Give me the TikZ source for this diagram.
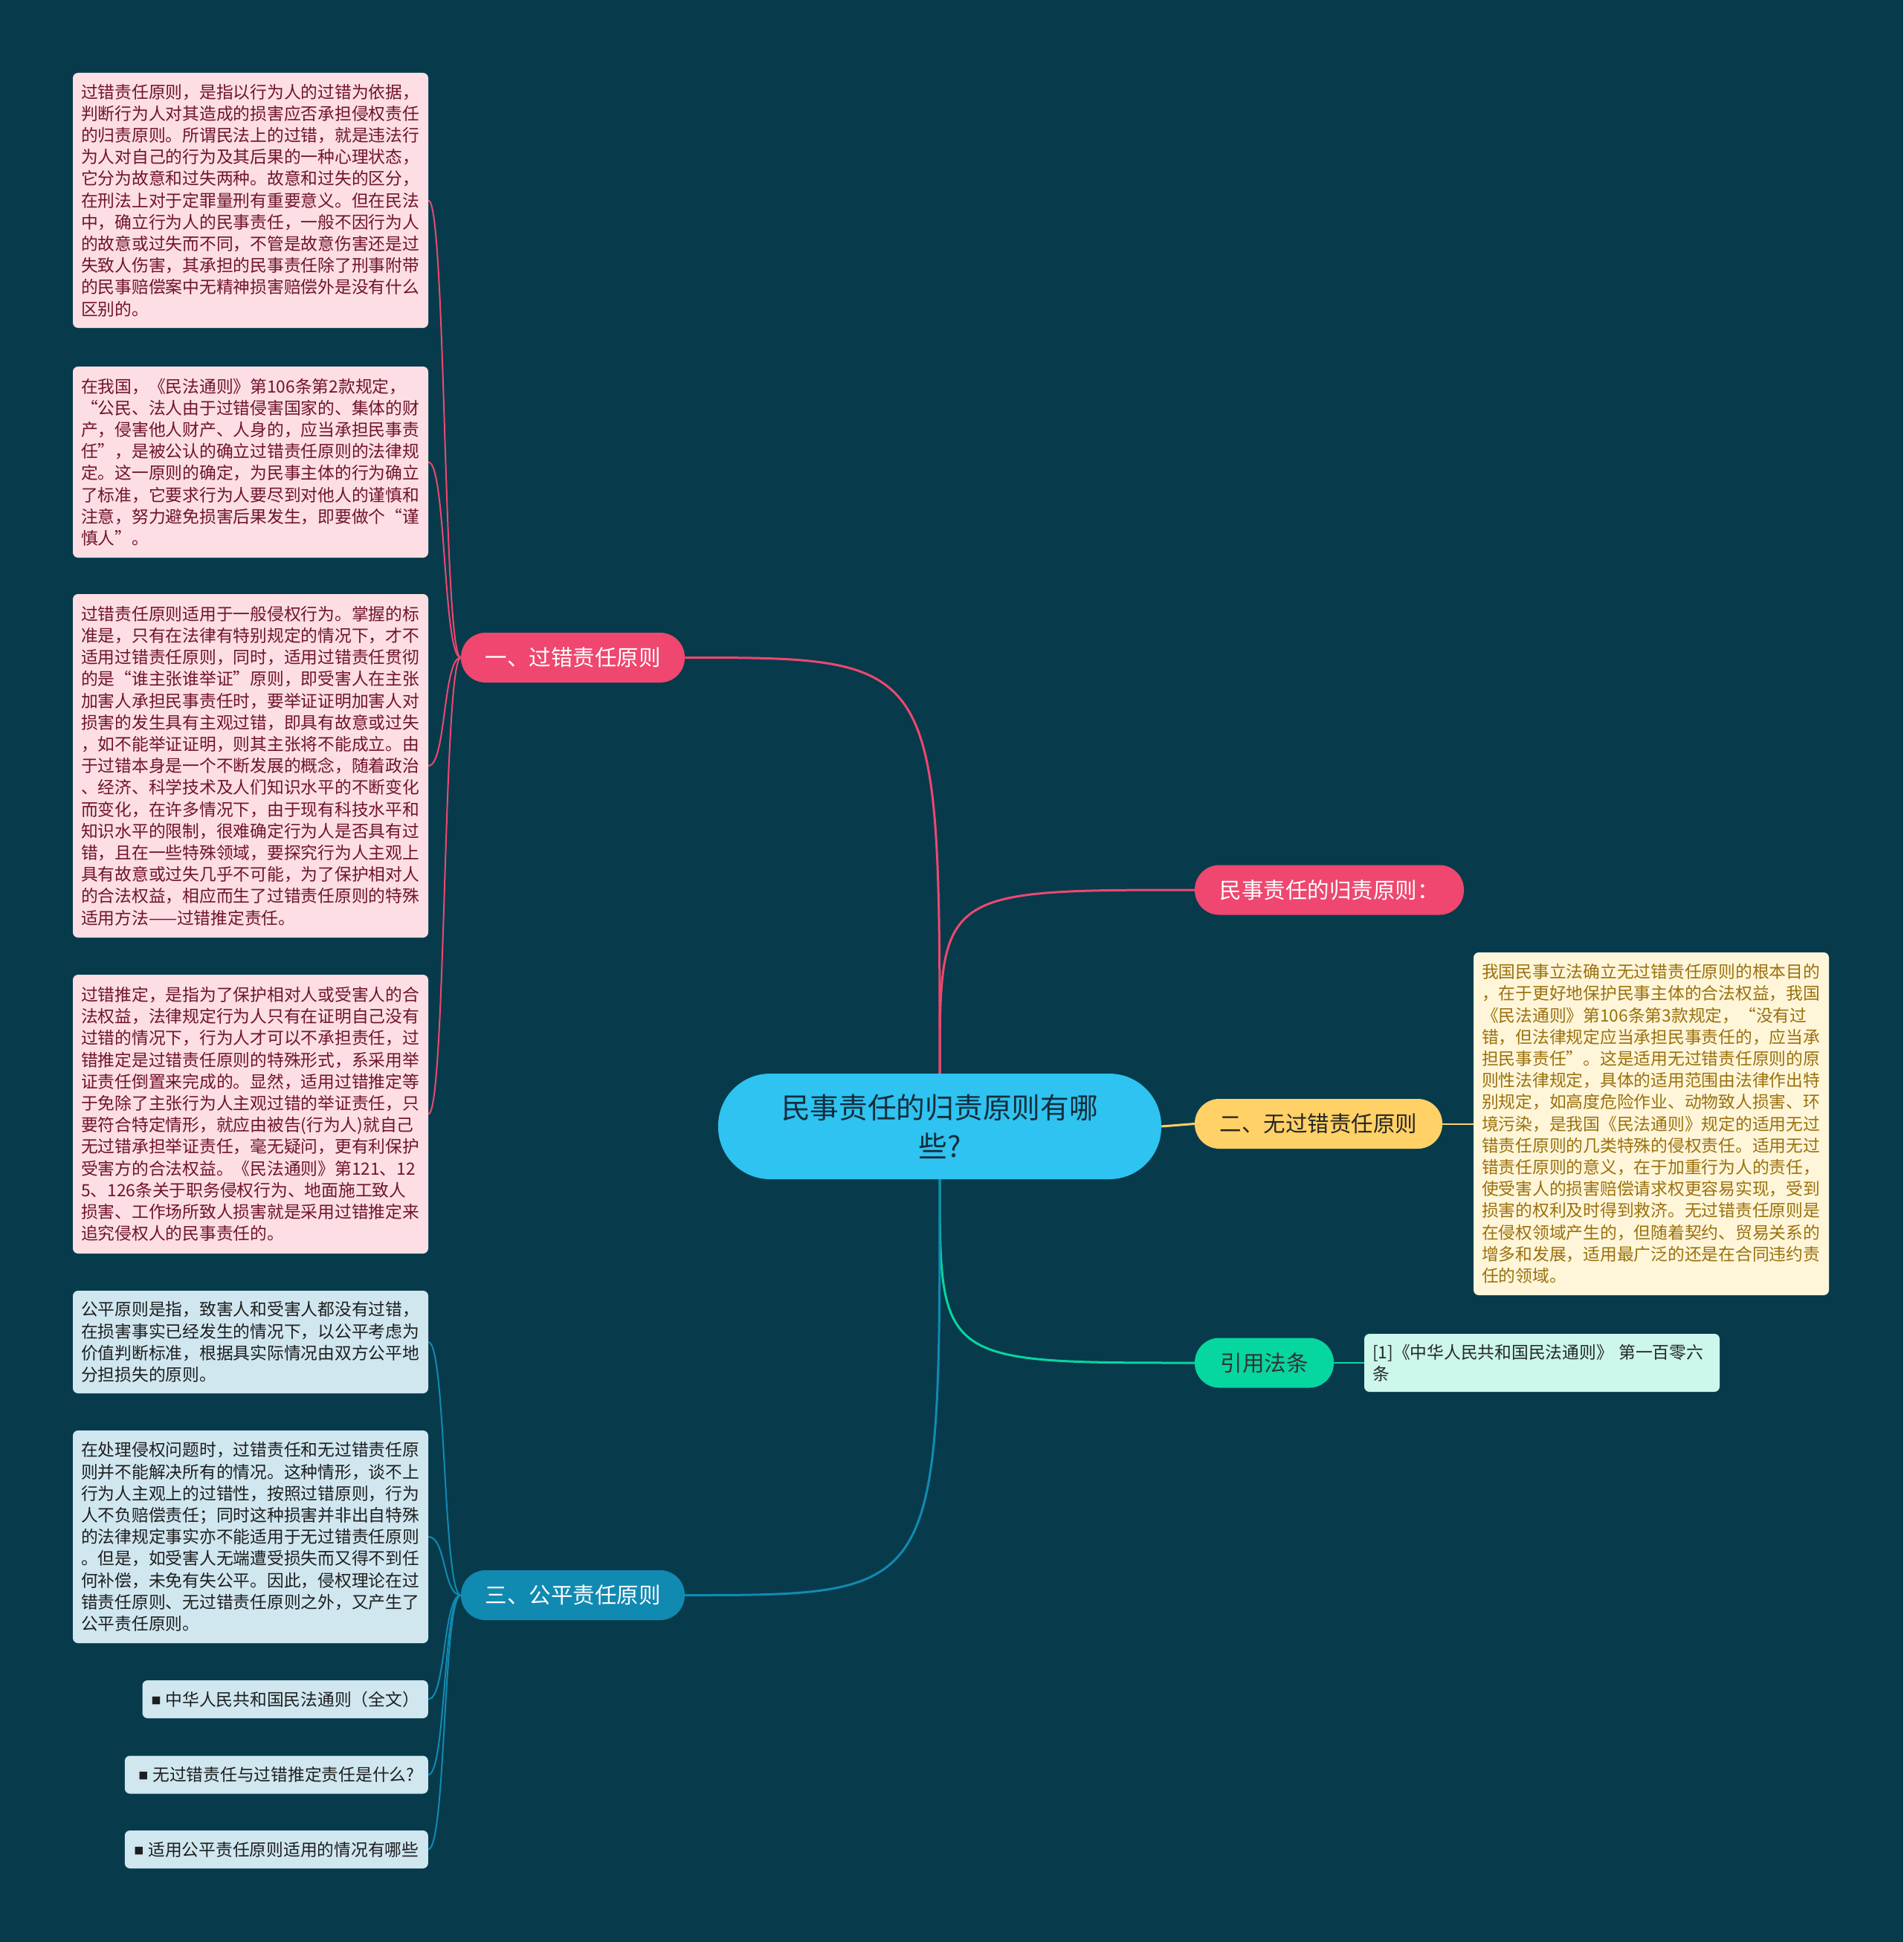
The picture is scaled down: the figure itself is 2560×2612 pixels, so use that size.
\documentclass[tikz,border=0pt]{standalone}
\usepackage{fontspec}
\setmainfont{Noto Sans CJK SC}
\definecolor{bgc}{RGB}{7,59,76}
\definecolor{pk}{RGB}{239,71,111}
\definecolor{yl}{RGB}{255,209,102}
\definecolor{gr}{RGB}{6,214,160}
\definecolor{bl}{RGB}{17,138,178}
\definecolor{cy}{RGB}{46,195,240}
\definecolor{pkfill}{RGB}{253,222,229}
\definecolor{pktext}{RGB}{112,20,42}
\definecolor{blfill}{RGB}{208,231,240}
\definecolor{bltext}{RGB}{30,30,30}
\definecolor{ylfill}{RGB}{255,246,218}
\definecolor{yltext}{RGB}{155,112,12}
\definecolor{grfill}{RGB}{205,246,236}
\definecolor{grtext}{RGB}{35,40,40}
\definecolor{ctext}{RGB}{20,45,60}
\pgfdeclarelayer{back}
\pgfdeclarelayer{lines}
\pgfsetlayers{back,lines,main}
\begin{document}
\begin{tikzpicture}[x=1pt,y=-1pt,
  box/.style={font=\fontsize{22.75}{29.2}\selectfont, align=left, inner xsep=11pt, inner ysep=0pt, rounded corners=7pt, text width=456pt},
  pinkbox/.style={box, fill=pkfill, text=pktext},
  bluebox/.style={box, fill=blfill, text=bltext},
  yellowbox/.style={box, fill=ylfill, text=yltext},
  greenbox/.style={box, fill=grfill, text=grtext},
  smallbox/.style={font=\fontsize{22.75}{29.2}\selectfont, fill=blfill, text=bltext, rounded corners=7pt, inner xsep=12pt, inner ysep=0pt, minimum height=51pt, anchor=east},
  branch/.style={font=\fontsize{29.5}{32}\selectfont, rounded corners=33pt, minimum height=67pt, inner sep=0pt},
  centre/.style={font=\fontsize{38.7}{52}\selectfont, fill=cy, text=ctext, rounded corners=70pt, minimum width=596pt, minimum height=142pt, align=center, inner sep=0pt},
  link/.style={line width=3pt},
  sublink/.style={line width=2pt},
]
\begin{pgfonlayer}{back}
\fill[bgc] (0,0) rectangle (2560,2612);
\end{pgfonlayer}
\useasboundingbox (0,0) rectangle (2560,2612);

% centre
\node[centre] (c) at (1264,1515) {民事责任的归责原则有哪\\些?};

% branches
\node[branch, fill=pk, text=white, minimum width=301pt] (b1) at (770.5,884.5) {一、过错责任原则};
\node[branch, fill=bl, text=white, minimum width=301pt] (b3) at (770.5,2145.5) {三、公平责任原则};
\node[branch, fill=pk, text=white, minimum width=362pt] (r1) at (1788,1197) {民事责任的归责原则：};
\node[branch, fill=yl, text=black!85, minimum width=333pt] (r2) at (1773.5,1511.5) {二、无过错责任原则};
\node[branch, fill=gr, text=black!80, minimum width=187pt] (r3) at (1700.5,1833) {引用法条};

% left pink boxes
\node[pinkbox, minimum height=343pt] (p1) at (337,269.5) {过错责任原则，是指以行为人的过错为依据，\\判断行为人对其造成的损害应否承担侵权责任\\的归责原则。所谓民法上的过错，就是违法行\\为人对自己的行为及其后果的一种心理状态，\\它分为故意和过失两种。故意和过失的区分，\\在刑法上对于定罪量刑有重要意义。但在民法\\中，确立行为人的民事责任，一般不因行为人\\的故意或过失而不同，不管是故意伤害还是过\\失致人伤害，其承担的民事责任除了刑事附带\\的民事赔偿案中无精神损害赔偿外是没有什么\\区别的。};
\node[pinkbox, minimum height=257pt] (p2) at (337,621.5) {在我国，《民法通则》第106条第2款规定，\\“公民、法人由于过错侵害国家的、集体的财\\产，侵害他人财产、人身的，应当承担民事责\\任”，是被公认的确立过错责任原则的法律规\\定。这一原则的确定，为民事主体的行为确立\\了标准，它要求行为人要尽到对他人的谨慎和\\注意，努力避免损害后果发生，即要做个“谨\\慎人”。};
\node[pinkbox, minimum height=462pt] (p3) at (337,1030) {过错责任原则适用于一般侵权行为。掌握的标\\准是，只有在法律有特别规定的情况下，才不\\适用过错责任原则，同时，适用过错责任贯彻\\的是“谁主张谁举证”原则，即受害人在主张\\加害人承担民事责任时，要举证证明加害人对\\损害的发生具有主观过错，即具有故意或过失\\，如不能举证证明，则其主张将不能成立。由\\于过错本身是一个不断发展的概念，随着政治\\、经济、科学技术及人们知识水平的不断变化\\而变化，在许多情况下，由于现有科技水平和\\知识水平的限制，很难确定行为人是否具有过\\错，且在一些特殊领域，要探究行为人主观上\\具有故意或过失几乎不可能，为了保护相对人\\的合法权益，相应而生了过错责任原则的特殊\\适用方法——过错推定责任。};
\node[pinkbox, minimum height=375pt] (p4) at (337,1498.5) {过错推定，是指为了保护相对人或受害人的合\\法权益，法律规定行为人只有在证明自己没有\\过错的情况下，行为人才可以不承担责任，过\\错推定是过错责任原则的特殊形式，系采用举\\证责任倒置来完成的。显然，适用过错推定等\\于免除了主张行为人主观过错的举证责任，只\\要符合特定情形，就应由被告(行为人)就自己\\无过错承担举证责任，毫无疑问，更有利保护\\受害方的合法权益。《民法通则》第121、12\\5、126条关于职务侵权行为、地面施工致人\\损害、工作场所致人损害就是采用过错推定来\\追究侵权人的民事责任的。};

% left blue boxes
\node[bluebox, minimum height=138pt] (q1) at (337,1805) {公平原则是指，致害人和受害人都没有过错，\\在损害事实已经发生的情况下，以公平考虑为\\价值判断标准，根据具实际情况由双方公平地\\分担损失的原则。};
\node[bluebox, minimum height=286pt] (q2) at (337,2067) {在处理侵权问题时，过错责任和无过错责任原\\则并不能解决所有的情况。这种情形，谈不上\\行为人主观上的过错性，按照过错原则，行为\\人不负赔偿责任；同时这种损害并非出自特殊\\的法律规定事实亦不能适用于无过错责任原则\\。但是，如受害人无端遭受损失而又得不到任\\何补偿，未免有失公平。因此，侵权理论在过\\错责任原则、无过错责任原则之外，又产生了\\公平责任原则。};
\node[smallbox, minimum width=384pt] (q3) at (576,2285.5) {\raisebox{2pt}{\fontsize{13}{13}\selectfont ■}\hspace{6pt}中华人民共和国民法通则（全文）};
\node[smallbox, minimum width=408pt] (q4) at (576,2387) {\raisebox{2pt}{\fontsize{13}{13}\selectfont ■}\hspace{6pt}无过错责任与过错推定责任是什么?};
\node[smallbox, minimum width=408pt] (q5) at (576,2487.5) {\raisebox{2pt}{\fontsize{13}{13}\selectfont ■}\hspace{6pt}适用公平责任原则适用的情况有哪些};

% right boxes
\node[yellowbox, minimum height=461pt] (y1) at (2221,1511.5) {我国民事立法确立无过错责任原则的根本目的\\，在于更好地保护民事主体的合法权益，我国\\《民法通则》第106条第3款规定，“没有过\\错，但法律规定应当承担民事责任的，应当承\\担民事责任”。这是适用无过错责任原则的原\\则性法律规定，具体的适用范围由法律作出特\\别规定，如高度危险作业、动物致人损害、环\\境污染，是我国《民法通则》规定的适用无过\\错责任原则的几类特殊的侵权责任。适用无过\\错责任原则的意义，在于加重行为人的责任，\\使受害人的损害赔偿请求权更容易实现，受到\\损害的权利及时得到救济。无过错责任原则是\\在侵权领域产生的，但随着契约、贸易关系的\\增多和发展，适用最广泛的还是在合同违约责\\任的领域。};
\node[greenbox, minimum height=78pt] (g1) at (2074,1833) {[1]《中华人民共和国民法通则》 第一百零六\\条};

% connectors
\begin{pgfonlayer}{lines}
\draw[link, pk] (c.north) .. controls (1264,884.5) .. (b1.east);
\draw[link, pk] (c.north) .. controls (1264,1197) .. (r1.west);
\draw[link, yl] (c.east) -- (r2.west);
\draw[link, gr] (c.south) .. controls (1264,1833) .. (r3.west);
\draw[link, bl] (c.south) .. controls (1264,2145.5) .. (b3.east);
\foreach \n in {p1,p2,p3,p4}
  \draw[sublink, pk] (b1.west) .. controls +(-24,0) and +(24,0) .. (\n.east);
\foreach \n in {q1,q2,q3,q4,q5}
  \draw[sublink, bl] (b3.west) .. controls +(-24,0) and +(24,0) .. (\n.east);
\draw[sublink, yl] (r2.east) -- (y1.west);
\draw[sublink, gr] (r3.east) -- (g1.west);
\end{pgfonlayer}
\end{tikzpicture}
\end{document}
